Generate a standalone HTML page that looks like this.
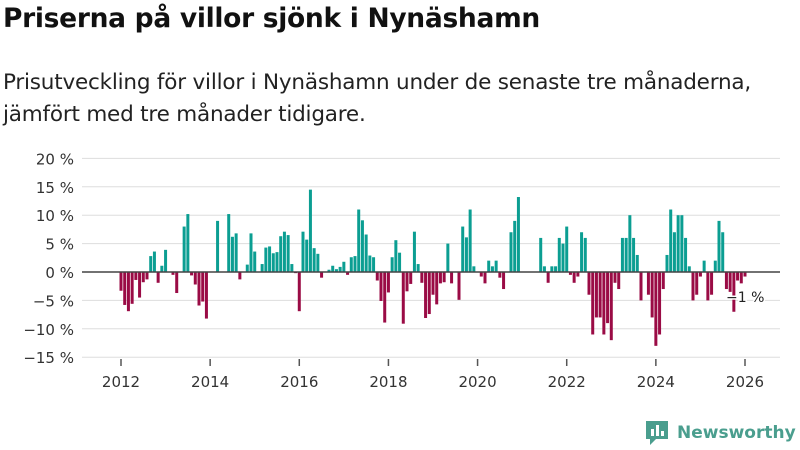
<!DOCTYPE html>
<html><head><meta charset="utf-8">
<style>
body{margin:0;width:800px;height:450px;background:#fff;font-family:"Liberation Sans","DejaVu Sans",sans-serif;overflow:hidden;position:relative}
#title{position:absolute;left:3px;top:3px;font-size:26.5px;font-weight:bold;color:#111;font-family:"DejaVu Sans",sans-serif;letter-spacing:-0.3px}
#sub{position:absolute;left:3px;top:67px;font-size:21.5px;line-height:32px;color:#222;font-family:"DejaVu Sans",sans-serif;letter-spacing:-0.2px}
svg{position:absolute;left:0;top:0}
</style></head><body>
<div id="title">Priserna på villor sjönk i Nynäshamn</div>
<div id="sub">Prisutveckling för villor i Nynäshamn under de senaste tre månaderna,<br>jämfört med tre månader tidigare.</div>
<svg id="chart" width="800" height="450"></svg>
<script>
const startYear = 2012;
const values = [-3.3,-5.8,-6.9,-5.6,-1.4,-4.5,-1.8,-1.3,2.8,3.6,-1.9,1.1,3.9,0,-0.5,-3.7,0,8,10.2,-0.6,-2.2,-5.9,-5.2,-8.2,0,0,9,0,0,10.2,6.2,6.8,-1.3,0,1.3,6.8,3.6,0,1.4,4.3,4.5,3.3,3.5,6.3,7.1,6.5,1.4,-0.2,-6.9,7.1,5.7,14.5,4.2,3.2,-1.0,0,0.4,1.1,0.5,0.9,1.8,-0.5,2.6,2.8,11,9.1,6.6,2.9,2.6,-1.5,-5.1,-8.9,-3.6,2.6,5.6,3.4,-9.1,-3.4,-2.1,7.1,1.4,-1.9,-8.1,-7.4,-4.0,-5.7,-2.0,-1.8,5.0,-2.0,0,-4.9,8.0,6.1,11.0,1.0,0,-0.8,-2.0,2.0,1.0,2.0,-1.0,-3.0,0,7.0,9.0,13.2,0,0,0,0,0,6.0,1.0,-1.9,1.0,1.0,6.0,5.0,8.0,-0.5,-1.9,-0.8,7.0,6.0,-4.0,-11.0,-8.0,-8.0,-11.0,-9.0,-12.0,-1.9,-3.0,6.0,6.0,10.0,6.0,3.0,-5.0,0,-4.0,-8.0,-13.0,-11.0,-3.0,3.0,11.0,7.0,10.0,10.0,6.0,1.0,-5.0,-4.0,-0.8,2.0,-5.0,-4.0,2.0,9.0,7.0,-3.0,-3.5,-7.0,-1.5,-2.0,-0.8];
const yTicks = [20,15,10,5,0,-5,-10,-15];
const xTickYears = [2012,2014,2016,2018,2020,2022,2024,2026];
const lastLabel = "−1 %";
const NS="http://www.w3.org/2000/svg";
const svg=document.getElementById('chart');
const y=v=>272-v*5.68;
const x=m=>121+m*(624/168);
function mk(t,a){const e=document.createElementNS(NS,t);for(const k in a)e.setAttribute(k,a[k]);svg.appendChild(e);return e;}
yTicks.forEach(t=>{
  const g=mk('line',{x1:82,x2:780,y1:y(t),y2:y(t),stroke:'#ddd','stroke-width':1});
  
  
  const l=mk('text',{x:74,y:y(t)+6,'text-anchor':'end','font-size':15,fill:'#333','font-family':'DejaVu Sans, sans-serif'});
  l.textContent=(t<0?'−'+(-t):t)+' %';
  
  
});
values.forEach((v,i)=>{
  if(v===0)return;
  const r=mk('rect',{x:x(i)-1.5,width:3,y:v>0?y(v):y(0),height:Math.abs(y(v)-y(0)),fill:v>0?'#0b9e92':'#9a0b45'});
  
  
});
const z=mk('line',{x1:82,x2:780,y1:y(0),y2:y(0),stroke:'#444','stroke-width':1.5});


xTickYears.forEach(yr=>{
  const px=x((yr-startYear)*12);
  const t=mk('line',{x1:px,x2:px,y1:359,y2:366,stroke:'#555','stroke-width':1.5});
  
  
  const l=mk('text',{x:px,y:387,'text-anchor':'middle','font-size':15,fill:'#333','font-family':'DejaVu Sans, sans-serif'});
  l.textContent=yr;
  
  
});
const ll=mk('text',{x:x(values.length-1)-19,y:302,'font-size':14,fill:'#222','font-family':'DejaVu Sans, sans-serif',stroke:'#fff','stroke-width':3,'paint-order':'stroke'});
ll.textContent=lastLabel;


</script>
<div style="position:absolute;left:644px;top:419px;display:flex;align-items:center">
<svg width="26" height="28" style="position:static"><path d="M2 2h22v18h-12l-6 6v-6h-4z" fill="#4a9e8e"/><rect x="7" y="10" width="3" height="7" fill="#fff"/><rect x="12" y="6" width="3" height="11" fill="#fff"/><rect x="17" y="12" width="3" height="5" fill="#fff"/></svg>
<span style="font-size:17px;font-weight:bold;color:#4a9e8e;margin-left:7px;font-family:'DejaVu Sans',sans-serif">Newsworthy</span></div>
</body></html>
